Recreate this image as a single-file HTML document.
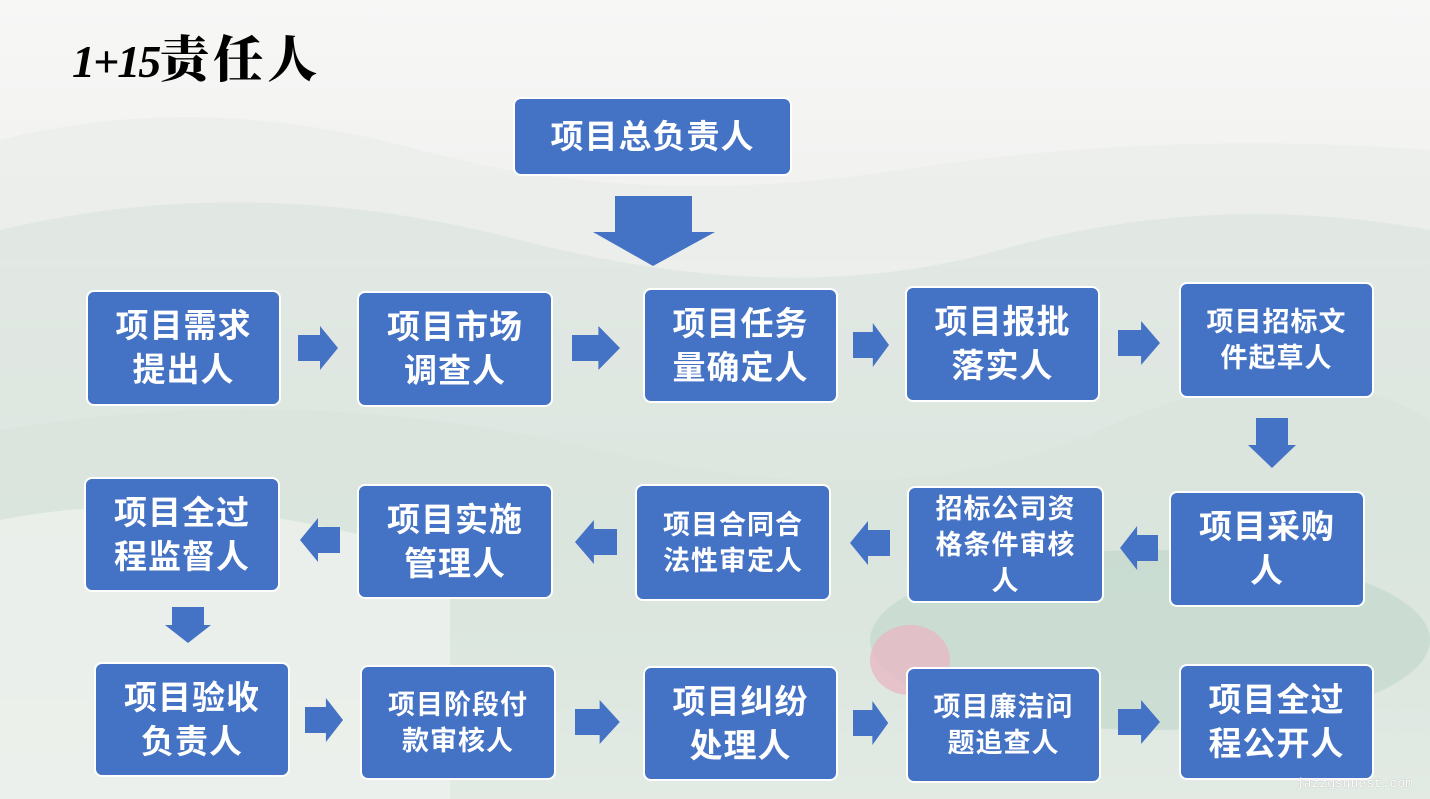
<!DOCTYPE html>
<html><head><meta charset="utf-8"><style>
body{margin:0;}
#c{position:relative;width:1430px;height:799px;overflow:hidden;background:linear-gradient(#f7f7f6 0%,#f1f2f0 25%,#e6ebe6 45%,#dce6df 65%,#e4ebe6 85%,#f2f3f1 100%);font-family:"Liberation Sans","Noto Sans CJK SC",sans-serif;}
.b{position:absolute;background:#4472c4;border:2px solid #fff;border-radius:8px;box-sizing:border-box;color:#fff;font-weight:bold;display:flex;align-items:center;justify-content:center;text-align:center;font-size:33px;line-height:44px;letter-spacing:1px;}
.s{font-size:27px;line-height:36px;}
svg{position:absolute;left:0;top:0;}
</style></head><body><div id="c">
<svg width="1430" height="799">
<defs><polygon id="r" points="0,-13 22,-13 22,-22 40,0 22,22 22,13 0,13"/></defs>
<path d="M0 140 Q200 90 420 150 T900 170 T1430 150 L1430 260 L0 260Z" fill="#e9ece9" opacity=".7"/>
<path d="M0 230 Q250 170 520 240 T1000 250 T1430 230 L1430 480 L0 480Z" fill="#dde6df" opacity=".7"/>
<path d="M0 430 Q300 380 600 450 T1100 430 T1430 420 L1430 799 L0 799Z" fill="#d9e5dc" opacity=".6"/>
<path d="M0 520 Q200 480 450 560 L450 799 L0 799Z" fill="#eef1ee" opacity=".8"/>
<ellipse cx="1150" cy="640" rx="280" ry="90" fill="#b9d4c6" opacity=".5"/>
<ellipse cx="910" cy="660" rx="40" ry="35" fill="#eab4c2" opacity=".7"/>
<g fill="#4472c4">
<polygon points="615,196 692,196 692,232 715,232 653,266 593,232 615,232"/>
<polygon points="1256,418 1288,418 1288,445 1296,445 1272,468 1248,445 1256,445"/>
<polygon points="172,607 204,607 204,625 211,625 188,643 165,625 172,625"/>
<use href="#r" transform="translate(298,348)"/>
<use href="#r" transform="translate(572,348) scale(1.2,1)"/>
<use href="#r" transform="translate(853,345) scale(.9,1)"/>
<use href="#r" transform="translate(1118,343) scale(1.05,1)"/>
<use href="#r" transform="translate(340,540) scale(-1,1)"/>
<use href="#r" transform="translate(617,542) scale(-1.05,1)"/>
<use href="#r" transform="translate(890,543) scale(-1,1)"/>
<use href="#r" transform="translate(1158,548) scale(-.95,1)"/>
<use href="#r" transform="translate(305,720) scale(.95,1)"/>
<use href="#r" transform="translate(575,722) scale(1.12,1)"/>
<use href="#r" transform="translate(853,723) scale(.88,1)"/>
<use href="#r" transform="translate(1118,722) scale(1.05,1)"/>
</g>
</svg>
<div style="position:absolute;left:72px;top:28px;height:56px;white-space:nowrap;color:#000;line-height:56px"><span style="font-family:'Liberation Serif',serif;font-style:italic;font-weight:bold;font-size:46px;letter-spacing:-2px">1+15</span><span style="font-family:'Noto Serif CJK SC',serif;font-weight:900;font-size:50px;letter-spacing:4px">责任人</span></div>
<div class="b" style="left:513px;top:97px;width:279px;height:79px">项目总负责人</div>
<div class="b" style="left:86px;top:290px;width:195px;height:116px">项目需求<br>提出人</div>
<div class="b" style="left:357px;top:291px;width:196px;height:116px">项目市场<br>调查人</div>
<div class="b" style="left:643px;top:288px;width:195px;height:115px">项目任务<br>量确定人</div>
<div class="b" style="left:905px;top:286px;width:195px;height:116px">项目报批<br>落实人</div>
<div class="b s" style="left:1179px;top:282px;width:195px;height:116px">项目招标文<br>件起草人</div>
<div class="b" style="left:84px;top:477px;width:196px;height:115px">项目全过<br>程监督人</div>
<div class="b" style="left:357px;top:484px;width:196px;height:115px">项目实施<br>管理人</div>
<div class="b s" style="left:635px;top:484px;width:196px;height:117px">项目合同合<br>法性审定人</div>
<div class="b s" style="left:907px;top:486px;width:197px;height:117px">招标公司资<br>格条件审核<br>人</div>
<div class="b" style="left:1169px;top:491px;width:196px;height:116px">项目采购<br>人</div>
<div class="b" style="left:94px;top:662px;width:196px;height:115px">项目验收<br>负责人</div>
<div class="b s" style="left:360px;top:665px;width:196px;height:115px">项目阶段付<br>款审核人</div>
<div class="b" style="left:643px;top:666px;width:195px;height:115px">项目纠纷<br>处理人</div>
<div class="b s" style="left:906px;top:667px;width:195px;height:116px">项目廉洁问<br>题追查人</div>
<div class="b" style="left:1179px;top:664px;width:195px;height:116px">项目全过<br>程公开人</div>
<div style="position:absolute;left:1296px;top:776px;font-family:'Liberation Mono',monospace;font-size:13px;color:#fff;text-shadow:0 0 1px #999">jazzgsquest.com</div>
</div></body></html>
